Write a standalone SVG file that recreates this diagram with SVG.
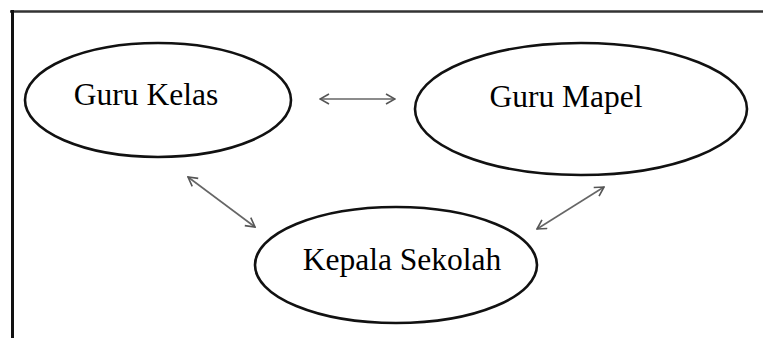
<svg xmlns="http://www.w3.org/2000/svg" width="763" height="338" viewBox="0 0 763 338">
  <defs>
    <marker id="head" viewBox="0 0 12 12" refX="11" refY="6" markerWidth="12" markerHeight="12" markerUnits="userSpaceOnUse" orient="auto-start-reverse">
      <path d="M2,1 L11,6 L2,11" fill="none" stroke="#555" stroke-width="1.6" stroke-linejoin="miter"/>
    </marker>
  </defs>
  <style>
    .node ellipse { fill: #ffffff; stroke: #111; stroke-width: 2.6; }
    .node text { font-family: "Liberation Serif", "Times New Roman", serif; font-size: 31.5px; fill: #000; text-anchor: middle; }
    .link { stroke: #666; stroke-width: 1.6; fill: none; marker-start: url(#head); marker-end: url(#head); }
  </style>
  <rect width="763" height="338" fill="#ffffff"/>
  <!-- frame: top and left edges -->
  <g id="frame" fill="none" stroke-linecap="butt">
    <line x1="10" y1="11.5" x2="763" y2="11.5" stroke="#333" stroke-width="2.6"/>
    <line x1="12.5" y1="10" x2="12.5" y2="338" stroke="#111" stroke-width="3"/>
  </g>
  <g id="guru-kelas" class="node">
    <ellipse cx="158" cy="100" rx="133" ry="57"/>
    <text x="146" y="105">Guru Kelas</text>
  </g>
  <g id="guru-mapel" class="node">
    <ellipse cx="581" cy="109" rx="166" ry="66"/>
    <text x="566" y="107">Guru Mapel</text>
  </g>
  <g id="kepala-sekolah" class="node">
    <ellipse cx="396" cy="265" rx="141" ry="58"/>
    <text x="402" y="270">Kepala Sekolah</text>
  </g>
  <g id="connectors">
    <line class="link" x1="320" y1="99" x2="395" y2="99"/>
    <line class="link" x1="188" y1="177" x2="255" y2="227"/>
    <line class="link" x1="604" y1="187" x2="537" y2="229"/>
  </g>
</svg>
